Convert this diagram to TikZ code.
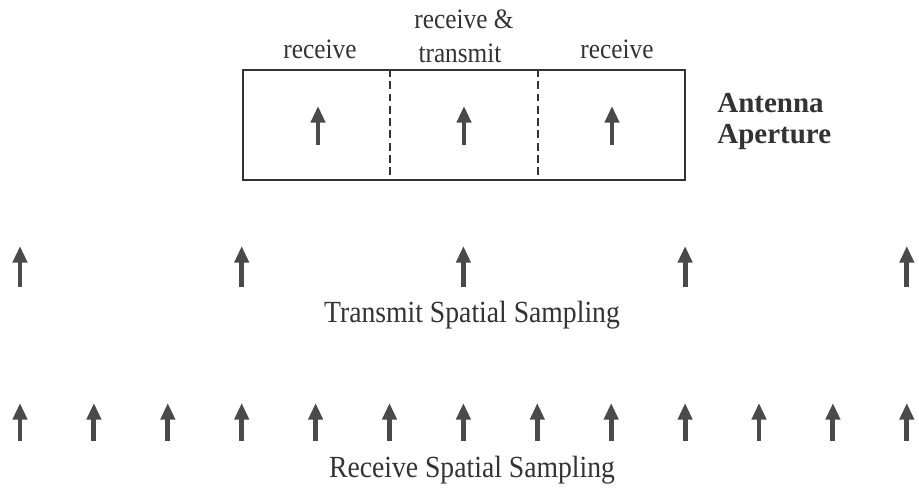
\documentclass[tikz,border=0pt]{standalone}
\usepackage{fontspec}
\setmainfont{Liberation Serif}
\newfontfamily\scanfont[FakeStretch=0.9]{Liberation Serif}
\usetikzlibrary{arrows.meta}
\definecolor{ink}{HTML}{4A4A4A}
\definecolor{print}{HTML}{333333}
\tikzset{element/.style={draw=ink,line width=2.8pt,-{Triangle[width=8pt,length=9.5pt]}}}
\tikzstyle{cut}=[draw=print,line width=1.2pt,dash pattern=on 4.5pt off 2.5pt]
\tikzstyle{region}=[text=print,font=\scanfont\fontsize{16}{18}\selectfont,inner sep=0pt,anchor=base]
\tikzstyle{caption}=[text=print,font=\scanfont\fontsize{17.5}{20}\selectfont,inner sep=0pt,anchor=base]
\tikzstyle{heading}=[text=print,font=\bfseries\fontsize{16.5}{19}\selectfont,inner sep=0pt,anchor=base west]

\begin{document}
\begin{tikzpicture}[x=0.02cm,y=-0.02cm]
	\useasboundingbox (0,0) rectangle (919,487);
	% aperture split in three
	\node (aperture) [draw=print,line width=1.2pt,minimum width=8.84cm,minimum height=2.2cm,inner sep=0pt] at (464,125) {};
	\path (aperture.north west) -- (aperture.north east) coordinate[pos=1/3] (cut1n) coordinate[pos=2/3] (cut2n);
	\path (aperture.south west) -- (aperture.south east) coordinate[pos=1/3] (cut1s) coordinate[pos=2/3] (cut2s);
	\draw[cut] (cut1n) -- (cut1s);
	\draw[cut] (cut2n) -- (cut2s);
	\foreach \nr/\px in {1/318, 2/464, 3/612}{
		\coordinate (ab\nr) at (\px,145);
		\coordinate (at\nr) at (\px,106);
		\draw[element] (ab\nr) -- (at\nr);
	}
	\node[region] (rxleft) at (320,58) {receive};
	\node[region] (txtop) at (464,28) {receive \&};
	\node[region] (txbottom) at (460,62) {transmit};
	\node[region] (rxright) at (617,58) {receive};
	\node[heading] (antenna) at (717,112) {Antenna};
	\node[heading] (aperturename) at (717,143) {Aperture};
	% spatial samples
	\foreach \nr in {0,3,...,12}{
		\coordinate (tb\nr) at (20+73.9*\nr,287);
		\coordinate (tt\nr) at (20+73.9*\nr,246);
		\draw[element] (tb\nr) -- (tt\nr);
	}
	\node[caption] (txcap) at (472,322) {Transmit Spatial Sampling};
	\foreach \nr in {0,...,12}{
		\coordinate (rb\nr) at (20+73.9*\nr,441);
		\coordinate (rt\nr) at (20+73.9*\nr,403);
		\draw[element] (rb\nr) -- (rt\nr);
	}
	\node[caption] (rxcap) at (472,477) {Receive Spatial Sampling};
\end{tikzpicture}
\end{document}
